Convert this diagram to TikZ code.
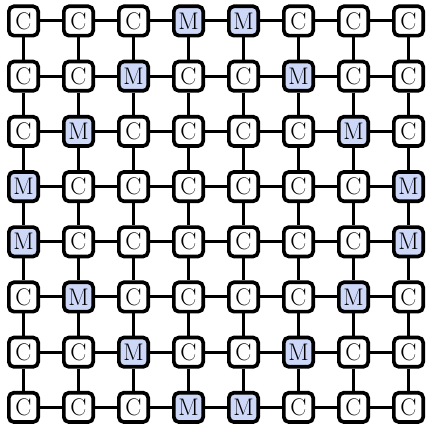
\documentclass[tikz,border=0pt]{standalone}
\definecolor{mfill}{RGB}{205,215,247}
\begin{document}
\begin{tikzpicture}[x=1pt,y=1pt,
  cell/.style={draw=black,line width=3.7pt,rounded corners=5pt,fill=white,
    minimum size=29.3pt,inner sep=0pt,font=\fontsize{24}{24}\selectfont},
  mcell/.style={cell,fill=mfill},
  link/.style={line width=3pt,draw=black}]
\useasboundingbox (0,0) rectangle (427,430);
\foreach \r in {1,...,8}{
  \foreach \c in {1,...,8}{
    \pgfmathtruncatemacro{\q}{min(\r,9-\r)}
    \pgfmathtruncatemacro{\ism}{or(\c==5-\q,\c==4+\q)}
    \ifnum\ism=1
      \node[mcell] (n-\r-\c) at ({23.5+55*(\c-1)},{409-55.2*(\r-1)}) {M};
    \else
      \node[cell] (n-\r-\c) at ({23.5+55*(\c-1)},{409-55.2*(\r-1)}) {C};
    \fi
  }
}
\foreach \r in {1,...,8}{
  \foreach \c [evaluate=\c as \d using int(\c+1)] in {1,...,7}{
    \draw[link] (n-\r-\c) -- (n-\r-\d);
  }
}
\foreach \c in {1,...,8}{
  \foreach \r [evaluate=\r as \s using int(\r+1)] in {1,...,7}{
    \draw[link] (n-\r-\c) -- (n-\s-\c);
  }
}
\end{tikzpicture}
\end{document}
